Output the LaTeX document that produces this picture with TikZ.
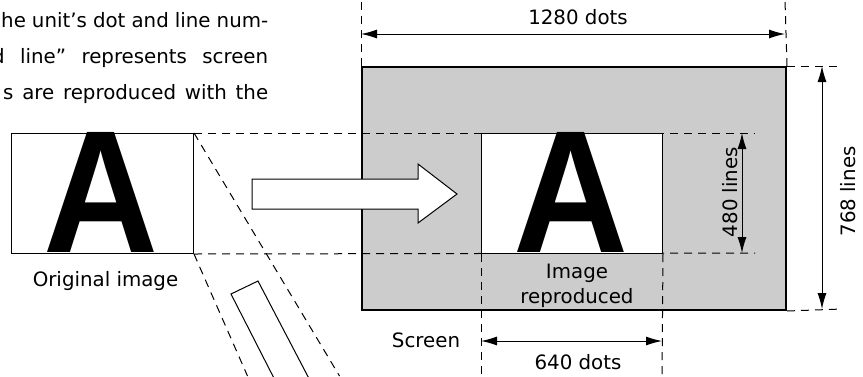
\documentclass[tikz,border=0pt]{standalone}
\usepackage{fontspec}
\setmainfont{DejaVu Sans}
\newfontfamily\bigAfont{Liberation Sans}
\usetikzlibrary{arrows.meta}
\begin{document}
\begin{tikzpicture}[x=1pt,y=-1pt,
  thinline/.style={line width=1pt},
  dashline/.style={line width=1pt, dash pattern=on 8pt off 6pt},
  dimline/.style={line width=1pt, {Latex[length=16pt,width=9pt]}-{Latex[length=16pt,width=9pt]}},
  lbl/.style={font=\fontsize{19.8pt}{24pt}\selectfont, inner sep=0pt, anchor=base},
  para/.style={font=\fontsize{19.8pt}{24pt}\selectfont, inner sep=0pt, anchor=base west},
  imgbox/.style={draw, thinline, minimum width=182pt, minimum height=120pt, inner sep=0pt, anchor=north west},
  bigA/.style={inner sep=0pt, anchor=south, font=\bigAfont\bfseries}]
\useasboundingbox (0,0) rectangle (863,376);
\clip (0,0) rectangle (863,376);

% paragraph (cropped at the left)
\node[para] (p1) at (1,27) {\makebox[267pt][s]{he unit’s dot and line num-}};
\node[para] (p2) at (-8,63) {\makebox[276pt][s]{d line” represents screen}};
\node[para] (p3) at (3,99) {\makebox[265pt][s]{s are reproduced with the}};

% original image
\node[imgbox] (orig) at (11,133) {};
\node[bigA] (origA) at (101.5,253) {\resizebox{115pt}{120pt}{A}};
\node[lbl] (origlbl) at (105.5,286.5) {Original image};

% perspective lines and slanted box
\coordinate (d1) at (339.5,376);
\coordinate (d2) at (247.5,376);
\draw[dashline] (orig.north east) -- (d1);
\draw[dashline] (orig.south east) -- (d2);
\coordinate (s1) at (231,294);
\coordinate (s2) at (258,281);
\coordinate (s3) at (280,390);
\coordinate (s4) at (315,390);
\draw[thinline] (s3) -- (s1) -- (s2) -- (s4);

% screen
\node[draw, line width=2pt, fill=black!20, minimum width=424pt, minimum height=243pt,
      inner sep=0pt, anchor=north west] (screen) at (361,66) {};

% horizontal projection lines
\coordinate (h1) at (755,133);
\coordinate (h2) at (755,253);
\draw[dashline] (orig.north east) -- (h1);
\draw[dashline] (orig.south east) -- (h2);

% reproduced image
\node[imgbox, fill=white, minimum width=181pt] (repro) at (481,133) {};
\node[bigA] (reproA) at (571.5,253) {\resizebox{115pt}{120pt}{A}};
\node[lbl] (img1) at (577,278) {Image};
\node[lbl] (img2) at (577,303) {reproduced};

% big arrow
\draw[thinline, fill=white] (252,179) -- (418,179) -- (418,164) -- (457,194)
  -- (418,223) -- (418,209) -- (252,209) -- cycle;

% 1280 dots
\coordinate (tl) at (361,0);
\coordinate (tr) at (785,0);
\draw[dashline] (screen.north west) -- (tl);
\draw[dashline] (screen.north east) -- (tr);
\coordinate (a1) at (361,34);
\coordinate (a2) at (785,34);
\draw[dimline] (a1) -- (a2);
\node[lbl] (w1280) at (578,24) {1280 dots};

% 768 lines
\coordinate (rt) at (842,66);
\coordinate (rb) at (842,309);
\draw[dashline] (screen.north east) -- (rt);
\draw[dashline] (screen.south east) -- (rb);
\coordinate (b1) at (822,66);
\coordinate (b2) at (822,309);
\draw[dimline] (b1) -- (b2);
\node[lbl, rotate=90] (h768) at (855,191.5) {768 lines};

% 480 lines
\coordinate (c1) at (742,133);
\coordinate (c2) at (742,253);
\draw[dimline] (c1) -- (c2);
\node[lbl, rotate=90] (h480) at (737,192) {480 lines};

% 640 dots
\coordinate (bl) at (481,376);
\coordinate (br) at (662,376);
\draw[dashline] (repro.south west) -- (bl);
\draw[dashline] (repro.south east) -- (br);
\coordinate (e1) at (481,341);
\coordinate (e2) at (662,341);
\draw[dimline] (e1) -- (e2);
\node[lbl] (w640) at (578,369) {640 dots};
\node[lbl] (scr) at (426,347) {Screen};
\end{tikzpicture}
\end{document}
